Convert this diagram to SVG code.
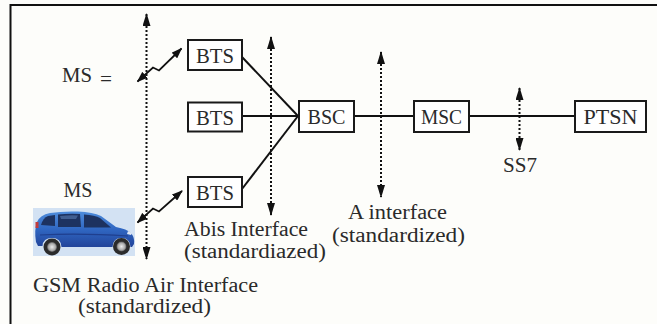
<svg xmlns="http://www.w3.org/2000/svg" width="657" height="324" viewBox="0 0 657 324">
  <style>
    .frame { stroke: #111; stroke-width: 2; fill: none; }
    .box rect { fill: #fff; stroke: #1a1a1a; stroke-width: 2; }
    .box text { font-family: "Liberation Serif", "Times New Roman", serif; font-size: 21px; fill: #2a2a2a; text-anchor: middle; }
    .lbl { font-family: "Liberation Serif", "Times New Roman", serif; font-size: 20px; fill: #2a2a2a; }
    .link { stroke: #111; stroke-width: 2; fill: none; }
    .iface { stroke: #111; stroke-width: 2; stroke-dasharray: 2 2; fill: none; marker-start: url(#tri); marker-end: url(#tri); }
    .radio { stroke: #111; stroke-width: 1.8; fill: none; stroke-linejoin: miter; marker-start: url(#tri-s); marker-end: url(#tri-s); }
    .glass { fill: #1d3260; }
  </style>
  <defs>
    <marker id="tri" markerUnits="userSpaceOnUse" viewBox="0 0 13 8" refX="12" refY="4" markerWidth="13" markerHeight="8" orient="auto-start-reverse">
      <path d="M0,0 L13,4 L0,8 z" fill="#111"/>
    </marker>
    <marker id="tri-s" markerUnits="userSpaceOnUse" viewBox="0 0 11 8" refX="10" refY="4" markerWidth="11" markerHeight="8" orient="auto-start-reverse">
      <path d="M0,0 L11,4 L0,8 z" fill="#111"/>
    </marker>
    <linearGradient id="carBody" x1="0" y1="0" x2="0" y2="1">
      <stop offset="0" stop-color="#4f8ddc"/>
      <stop offset="0.5" stop-color="#3067c2"/>
      <stop offset="1" stop-color="#22449a"/>
    </linearGradient>
    <radialGradient id="hub" cx="0.5" cy="0.5" r="0.5">
      <stop offset="0" stop-color="#ececec"/>
      <stop offset="0.7" stop-color="#aaaaaa"/>
      <stop offset="1" stop-color="#555"/>
    </radialGradient>
  </defs>

  <rect width="657" height="324" fill="#fdfdfa"/>
  <path class="frame" d="M657,5 H10.5 V324"/>

  <!-- wired links, interface markers and radio links -->
  <g id="connectors">
    <line class="link" x1="242" y1="57" x2="298" y2="116"/>
    <line class="link" x1="242" y1="116" x2="299" y2="116"/>
    <line class="link" x1="242" y1="189" x2="298" y2="116"/>
    <line class="link" x1="354" y1="116" x2="414" y2="116"/>
    <line class="link" x1="469" y1="116" x2="575" y2="116"/>

    <line class="iface" x1="146.5" y1="14" x2="146.5" y2="259"/>
    <line class="iface" x1="271" y1="37" x2="271" y2="215"/>
    <line class="iface" x1="381" y1="52" x2="381" y2="197"/>
    <line class="iface" x1="519.5" y1="88" x2="519.5" y2="150"/>

    <polyline class="radio" points="137.5,81.5 153,67.5 159,70.5 181.5,48.5"/>
    <polyline class="radio" points="137.5,222.5 153,208.5 159,211.5 182,191"/>
  </g>

  <g id="bts1" class="box">
    <rect x="188" y="40" width="54" height="30"/>
    <text x="215" y="63" textLength="38" lengthAdjust="spacingAndGlyphs">BTS</text>
  </g>
  <g id="bts2" class="box">
    <rect x="188" y="102.5" width="54" height="29"/>
    <text x="215" y="124.5" textLength="38" lengthAdjust="spacingAndGlyphs">BTS</text>
  </g>
  <g id="bts3" class="box">
    <rect x="188" y="177" width="54" height="30"/>
    <text x="215" y="200" textLength="38" lengthAdjust="spacingAndGlyphs">BTS</text>
  </g>
  <g id="bsc" class="box">
    <rect x="299" y="101" width="55" height="31"/>
    <text x="326.5" y="124" textLength="38" lengthAdjust="spacingAndGlyphs">BSC</text>
  </g>
  <g id="msc" class="box">
    <rect x="414" y="101" width="55" height="31"/>
    <text x="441.5" y="124" textLength="41" lengthAdjust="spacingAndGlyphs">MSC</text>
  </g>
  <g id="ptsn" class="box">
    <rect x="575" y="101" width="71" height="31"/>
    <text x="610.5" y="124" textLength="54" lengthAdjust="spacingAndGlyphs">PTSN</text>
  </g>

  <g id="ms-top">
    <text class="lbl" x="62" y="81.5" textLength="30" lengthAdjust="spacingAndGlyphs">MS</text>
    <text class="lbl" x="100" y="86" font-size="18" textLength="12" lengthAdjust="spacingAndGlyphs">=</text>
  </g>

  <g id="ms-car">
    <text class="lbl" x="63.5" y="197" textLength="29" lengthAdjust="spacingAndGlyphs">MS</text>
    <rect x="33" y="208" width="102" height="48" fill="#d3e2f3"/>
    <!-- hatchback body -->
    <path d="M36,242 Q34,230 37,222 Q40,215 50,213 Q62,211 78,211.5 Q93,212 101,216 L116,227 Q127,229 131,233 Q135,238 134,244 L132,247 L130.5,247 Q130,238 121.5,238 Q113,238 112.5,247 L61.5,247 Q61,238 52,238 Q43,238 42.5,246 L38,246 Z" fill="url(#carBody)"/>
    <!-- windows -->
    <path class="glass" d="M41,225 Q43,218 48,216 L55,215 L55,226 Z"/>
    <path class="glass" d="M58,214.5 Q68,213.5 80,214 L81,227 L58,227 Z"/>
    <path class="glass" d="M84,214.5 Q95,215 100,218 L111,227.5 L84,227.5 Z"/>
    <path d="M60,216 Q70,215 78,215.5 L76,219 L61,219 Z" fill="#5a7bb0" opacity="0.6"/>
    <!-- side crease and lamps -->
    <path d="M40,235 Q80,233 128,236" stroke="#1f3f8e" stroke-width="1.2" fill="none"/>
    <rect x="35.5" y="222" width="3" height="6" fill="#c23c3c"/>
    <path d="M128,231 L132,233 L131,235 L127,234 Z" fill="#dfe8f5"/>
    <!-- wheels -->
    <circle cx="52" cy="247" r="8.5" fill="#2b2b2b"/>
    <circle cx="52" cy="247" r="5" fill="url(#hub)"/>
    <circle cx="121.5" cy="246.5" r="8.5" fill="#2b2b2b"/>
    <circle cx="121.5" cy="246.5" r="5" fill="url(#hub)"/>
  </g>

  <g id="labels">
    <text class="lbl" x="184" y="235.5" textLength="124" lengthAdjust="spacingAndGlyphs">Abis Interface</text>
    <text class="lbl" x="184" y="258" textLength="142" lengthAdjust="spacingAndGlyphs">(standardiazed)</text>
    <text class="lbl" x="348" y="219" textLength="99" lengthAdjust="spacingAndGlyphs">A interface</text>
    <text class="lbl" x="332" y="242" textLength="133" lengthAdjust="spacingAndGlyphs">(standardized)</text>
    <text class="lbl" x="33" y="291.5" textLength="225" lengthAdjust="spacingAndGlyphs">GSM Radio Air Interface</text>
    <text class="lbl" x="78" y="313" textLength="133" lengthAdjust="spacingAndGlyphs">(standardized)</text>
    <text class="lbl" x="503" y="172" textLength="34" lengthAdjust="spacingAndGlyphs">SS7</text>
  </g>
</svg>
